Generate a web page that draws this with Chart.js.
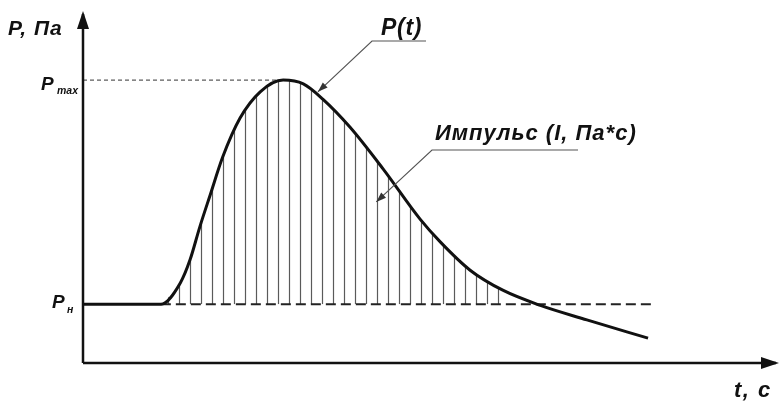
<!DOCTYPE html>
<html>
<head>
<meta charset="utf-8">
<script src="https://cdn.jsdelivr.net/npm/chart.js@4.4.1/dist/chart.umd.min.js"></script>
<style>
    html, body { margin: 0; padding: 0; background: #fff; }
    #wrap { width: 781px; height: 403px; position: relative; }
</style>
</head>
<body>
<div id="wrap"><canvas id="pressureChart"></canvas></div>
<script>
// Time axis (arbitrary units) and pressure P(t)
const timeValues = [0, 11.2, 14, 15.4, 16.8, 18.3, 20.1, 22.6, 25.5, 28.8, 31.7, 34.5, 38.4, 43.2, 48.5, 51.4, 55.7, 60.4, 65.8, 72.5, 81.3];
const pressureValues = [17, 17, 23.2, 29.9, 39.4, 48.7, 59.7, 71, 78.6, 82, 80.9, 76.5, 68.4, 56.2, 41.7, 35.1, 26.9, 21.1, 16.7, 12.5, 7.2];

// Reference levels
const ambientLevel = 17;      // P_н
const maxLevel = 82;          // P_max
const maxTime = 28.8;         // time of P_max
const ambientLineRange = [11.2, 82];
const impulseEndTime = 60.4;  // hatching ends here

// Text labels
const yAxisLabel = 'P, Па';
const xAxisLabel = 't, с';
const curveLabel = 'P(t)';
const impulseLabel = 'Импульс (I, Па*с)';

const curvePoints = timeValues.map((t, i) => ({ x: t, y: pressureValues[i] }));
const hatchPoints = curvePoints.filter(p => p.x >= ambientLineRange[0] && p.x <= impulseEndTime);

// vertical hatching pattern
function makeHatch() {
    const c = document.createElement('canvas');
    c.width = 11;
    c.height = 11;
    const g = c.getContext('2d');
    g.strokeStyle = '#5a5a5a';
    g.lineWidth = 1.2;
    g.beginPath();
    g.moveTo(3.5, 0);
    g.lineTo(3.5, 11);
    g.stroke();
    return g.createPattern(c, 'repeat');
}

const FONT = '"Liberation Sans", Arial, sans-serif';

function arrowHead(ctx, x1, y1, x2, y2, len, half) {
    const a = Math.atan2(y2 - y1, x2 - x1);
    ctx.beginPath();
    ctx.moveTo(x2, y2);
    ctx.lineTo(x2 - len * Math.cos(a) + half * Math.sin(a), y2 - len * Math.sin(a) - half * Math.cos(a));
    ctx.lineTo(x2 - len * Math.cos(a) - half * Math.sin(a), y2 - len * Math.sin(a) + half * Math.cos(a));
    ctx.closePath();
    ctx.fill();
}

function label(ctx, text, x, y, size, spacing) {
    ctx.font = 'italic bold ' + size + 'px ' + FONT;
    ctx.letterSpacing = spacing + 'px';
    ctx.fillText(text, x, y);
}

const decorPlugin = {
    id: 'decor',
    afterDraw(chart) {
        const ctx = chart.ctx;
        const area = chart.chartArea;
        const xs = chart.scales.x;
        const ys = chart.scales.y;
        ctx.save();

        // axes with arrows
        ctx.strokeStyle = '#111';
        ctx.fillStyle = '#111';
        ctx.lineWidth = 2.5;
        ctx.beginPath();
        ctx.moveTo(area.left, area.bottom);
        ctx.lineTo(area.left, area.top - 4);
        ctx.moveTo(area.left, area.bottom);
        ctx.lineTo(area.right - 2, area.bottom);
        ctx.stroke();
        arrowHead(ctx, area.left, area.bottom, area.left, area.top - 7, 18, 6);
        arrowHead(ctx, area.left, area.bottom, area.right + 1, area.bottom, 18, 6);

        // axis titles and level labels
        ctx.textBaseline = 'alphabetic';
        ctx.textAlign = 'left';
        label(ctx, yAxisLabel, 8, 35, 21, 1);
        label(ctx, xAxisLabel, 734, 397, 22, 1.5);

        label(ctx, 'P', 41, ys.getPixelForValue(maxLevel) + 10, 19, 0);
        label(ctx, 'P', 52, ys.getPixelForValue(ambientLevel) + 4, 19, 0);
        label(ctx, 'max', 57, ys.getPixelForValue(maxLevel) + 14, 10.5, 0);
        label(ctx, 'н', 67, ys.getPixelForValue(ambientLevel) + 9, 10.5, 0);

        // callouts
        label(ctx, curveLabel, 381, 35, 23, 0.7);
        label(ctx, impulseLabel, 435, 140, 22, 1);

        ctx.letterSpacing = '0px';
        ctx.strokeStyle = '#555';
        ctx.fillStyle = '#333';
        ctx.lineWidth = 1.2;
        const tip1 = { x: xs.getPixelForValue(33.8), y: ys.getPixelForValue(78.6) };
        const tip2 = { x: xs.getPixelForValue(42.2), y: ys.getPixelForValue(46.7) };
        ctx.beginPath();
        ctx.moveTo(426, 41);
        ctx.lineTo(372, 41);
        ctx.lineTo(tip1.x, tip1.y);
        ctx.moveTo(578, 150);
        ctx.lineTo(432, 150);
        ctx.lineTo(tip2.x, tip2.y);
        ctx.stroke();
        arrowHead(ctx, 372, 41, tip1.x, tip1.y, 10, 3.5);
        arrowHead(ctx, 432, 150, tip2.x, tip2.y, 10, 3.5);

        ctx.restore();
    }
};

const config = {
    type: 'line',
    data: {
        datasets: [
            {
                label: 'P(t)',
                data: curvePoints,
                borderColor: '#111',
                borderWidth: 3,
                pointRadius: 0,
                cubicInterpolationMode: 'monotone',
                fill: false
            },
            {
                label: 'P_н',
                data: ambientLineRange.map(t => ({ x: t, y: ambientLevel })),
                borderColor: '#222',
                borderWidth: 2,
                borderDash: [10, 5],
                pointRadius: 0,
                fill: false
            },
            {
                label: 'P_max',
                data: [{ x: 0, y: maxLevel }, { x: maxTime, y: maxLevel }],
                borderColor: '#333',
                borderWidth: 1,
                borderDash: [4, 3],
                pointRadius: 0,
                fill: false
            },
            {
                label: 'Импульс',
                data: hatchPoints,
                borderColor: 'rgba(0,0,0,0)',
                borderWidth: 0,
                pointRadius: 0,
                cubicInterpolationMode: 'monotone',
                fill: { target: { value: ambientLevel }, above: makeHatch(), below: 'rgba(0,0,0,0)' }
            }
        ]
    },
    options: {
        responsive: true,
        maintainAspectRatio: false,
        animation: false,
        layout: { padding: { left: 83, right: 3, top: 18, bottom: 40 } },
        scales: {
            x: { type: 'linear', min: 0, max: 100, display: false },
            y: { min: 0, max: 100, display: false }
        },
        plugins: {
            legend: { display: false },
            tooltip: { enabled: false }
        }
    },
    plugins: [decorPlugin]
};

// Render the chart
const pressureChart = new Chart(document.getElementById('pressureChart'), config);
</script>
</body>
</html>
